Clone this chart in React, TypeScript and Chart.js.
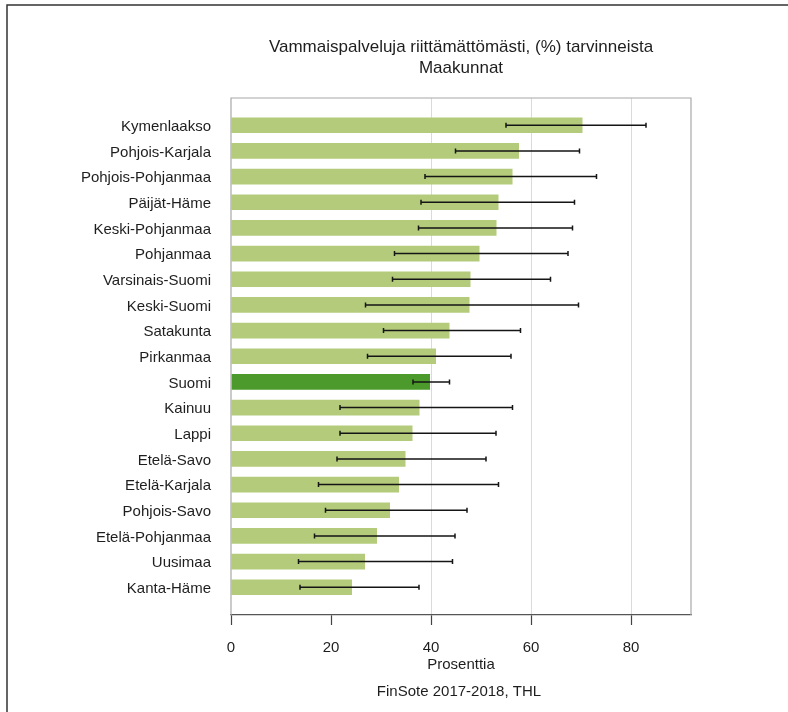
import React, { useEffect, useRef } from 'react';
import { Chart, registerables } from 'chart.js';

Chart.register(...registerables);

const categories = [
  'Kymenlaakso',
  'Pohjois-Karjala',
  'Pohjois-Pohjanmaa',
  'Päijät-Häme',
  'Keski-Pohjanmaa',
  'Pohjanmaa',
  'Varsinais-Suomi',
  'Keski-Suomi',
  'Satakunta',
  'Pirkanmaa',
  'Suomi',
  'Kainuu',
  'Lappi',
  'Etelä-Savo',
  'Etelä-Karjala',
  'Pohjois-Savo',
  'Etelä-Pohjanmaa',
  'Uusimaa',
  'Kanta-Häme',
];

const values = [70.3, 57.6, 56.3, 53.5, 53.1, 49.7, 47.9, 47.7, 43.7, 41.0, 39.8, 37.7, 36.3, 34.9, 33.6, 31.8, 29.2, 26.8, 24.2];
const lower = [55.0, 44.9, 38.8, 38.0, 37.5, 32.7, 32.3, 26.9, 30.5, 27.3, 36.4, 21.8, 21.8, 21.2, 17.5, 18.9, 16.7, 13.5, 13.8];
const upper = [83.0, 69.7, 73.1, 68.7, 68.3, 67.4, 63.9, 69.5, 57.9, 56.0, 43.7, 56.3, 53.0, 51.0, 53.5, 47.2, 44.8, 44.3, 37.6];

const xTicks = [0, 20, 40, 60, 80];
const gridValues = [40, 60, 80];

const titleLines = ['Vammaispalveluja riittämättömästi, (%) tarvinneista', 'Maakunnat'];
const xTitle = 'Prosenttia';
const footer = 'FinSote 2017-2018, THL';

const highlight = 'Suomi';
const LIGHT = '#b3cb7b';
const DARK = '#4b9a2b';
const FONT = "'Liberation Sans', Arial, Helvetica, sans-serif";

const W = 788;
const H = 712;
const PLOT_LEFT = 231;
const PLOT_TOP = 98;
const PLOT_RIGHT = 691;
const PLOT_BOTTOM = 615;

export default function App() {
  const ref = useRef<HTMLCanvasElement>(null);

  useEffect(() => {
    const decor = {
      id: 'decor',
      beforeDraw(chart: any) {
        const ctx = chart.ctx;
        ctx.save();
        ctx.fillStyle = '#ffffff';
        ctx.fillRect(0, 0, W, H);
        ctx.strokeStyle = '#333333';
        ctx.lineWidth = 1.5;
        ctx.beginPath();
        ctx.moveTo(7, H);
        ctx.lineTo(7, 5);
        ctx.lineTo(W, 5);
        ctx.stroke();
        ctx.restore();
      },
      afterDatasetsDraw(chart: any) {
        const ctx = chart.ctx;
        const xs = chart.scales.x;
        const ys = chart.scales.y;
        const a = chart.chartArea;
        ctx.save();
        ctx.strokeStyle = '#151515';
        ctx.lineWidth = 1.5;
        for (let i = 0; i < categories.length; i++) {
          const y = ys.getPixelForValue(i);
          const x1 = xs.getPixelForValue(lower[i]);
          const x2 = xs.getPixelForValue(upper[i]);
          ctx.beginPath();
          ctx.moveTo(x1, y);
          ctx.lineTo(x2, y);
          ctx.moveTo(x1, y - 2.5);
          ctx.lineTo(x1, y + 2.5);
          ctx.moveTo(x2, y - 2.5);
          ctx.lineTo(x2, y + 2.5);
          ctx.stroke();
        }
        ctx.strokeStyle = '#a8a8a8';
        ctx.lineWidth = 1.2;
        ctx.beginPath();
        ctx.moveTo(a.left, a.bottom);
        ctx.lineTo(a.left, a.top);
        ctx.lineTo(a.right, a.top);
        ctx.lineTo(a.right, a.bottom);
        ctx.stroke();
        const cx = (a.left + a.right) / 2;
        ctx.fillStyle = '#1e1e1e';
        ctx.textAlign = 'center';
        ctx.textBaseline = 'middle';
        ctx.font = `17px ${FONT}`;
        ctx.fillText(titleLines[0], cx, 47);
        ctx.fillText(titleLines[1], cx, 68);
        ctx.font = `15px ${FONT}`;
        ctx.fillText(xTitle, cx, 665);
        ctx.fillText(footer, cx - 2, 692);
        ctx.restore();
      },
    };

    const chart = new Chart(ref.current as HTMLCanvasElement, {
      type: 'bar',
      data: {
        datasets: [
          {
            data: values.map((v, i) => ({ x: v, y: i })),
            backgroundColor: categories.map((c) => (c === highlight ? DARK : LIGHT)),
            borderWidth: 0,
            barPercentage: 0.61,
            categoryPercentage: 1,
          },
        ],
      },
      options: {
        indexAxis: 'y',
        animation: false,
        responsive: false,
        maintainAspectRatio: false,
        layout: { padding: { top: PLOT_TOP, right: W - PLOT_RIGHT, left: 0, bottom: 0 } },
        plugins: {
          legend: { display: false },
          tooltip: { enabled: false },
          title: { display: false },
        },
        scales: {
          x: {
            type: 'linear',
            position: 'bottom',
            min: 0,
            max: 92,
            offset: false,
            afterBuildTicks: (s: any) => {
              s.ticks = xTicks.map((v) => ({ value: v }));
            },
            afterFit: (s: any) => {
              s.height = H - PLOT_BOTTOM;
            },
            grid: {
              color: (c: any) => (c.tick && gridValues.includes(c.tick.value) ? '#dadada' : 'rgba(0,0,0,0)'),
              tickColor: '#444444',
              tickLength: 10,
              tickWidth: 1.2,
              lineWidth: 1,
              drawOnChartArea: true,
              drawTicks: true,
              offset: false,
            },
            border: { display: true, color: '#555555', width: 1.3 },
            ticks: {
              font: { family: FONT, size: 15 },
              color: '#1e1e1e',
              padding: 14,
              maxRotation: 0,
              autoSkip: false,
            },
          },
          y: {
            type: 'linear',
            reverse: true,
            min: -1.06,
            max: 19.08,
            offset: false,
            afterBuildTicks: (s: any) => {
              s.ticks = categories.map((_, i) => ({ value: i }));
            },
            afterFit: (s: any) => {
              s.width = PLOT_LEFT;
            },
            grid: { display: false, drawTicks: false, offset: false },
            border: { display: false },
            ticks: {
              callback: (v: any) => categories[v as number],
              font: { family: FONT, size: 15 },
              color: '#1e1e1e',
              padding: 20,
              labelOffset: 1.5,
              autoSkip: false,
            },
          },
        },
      } as any,
      plugins: [decor],
    });
    return () => chart.destroy();
  }, []);

  return (
    <div style={{ position: 'fixed', left: 0, top: 0, width: W, height: H, background: '#fff' }}>
      <canvas ref={ref} width={W} height={H} style={{ width: W, height: H, display: 'block' }} />
    </div>
  );
}
